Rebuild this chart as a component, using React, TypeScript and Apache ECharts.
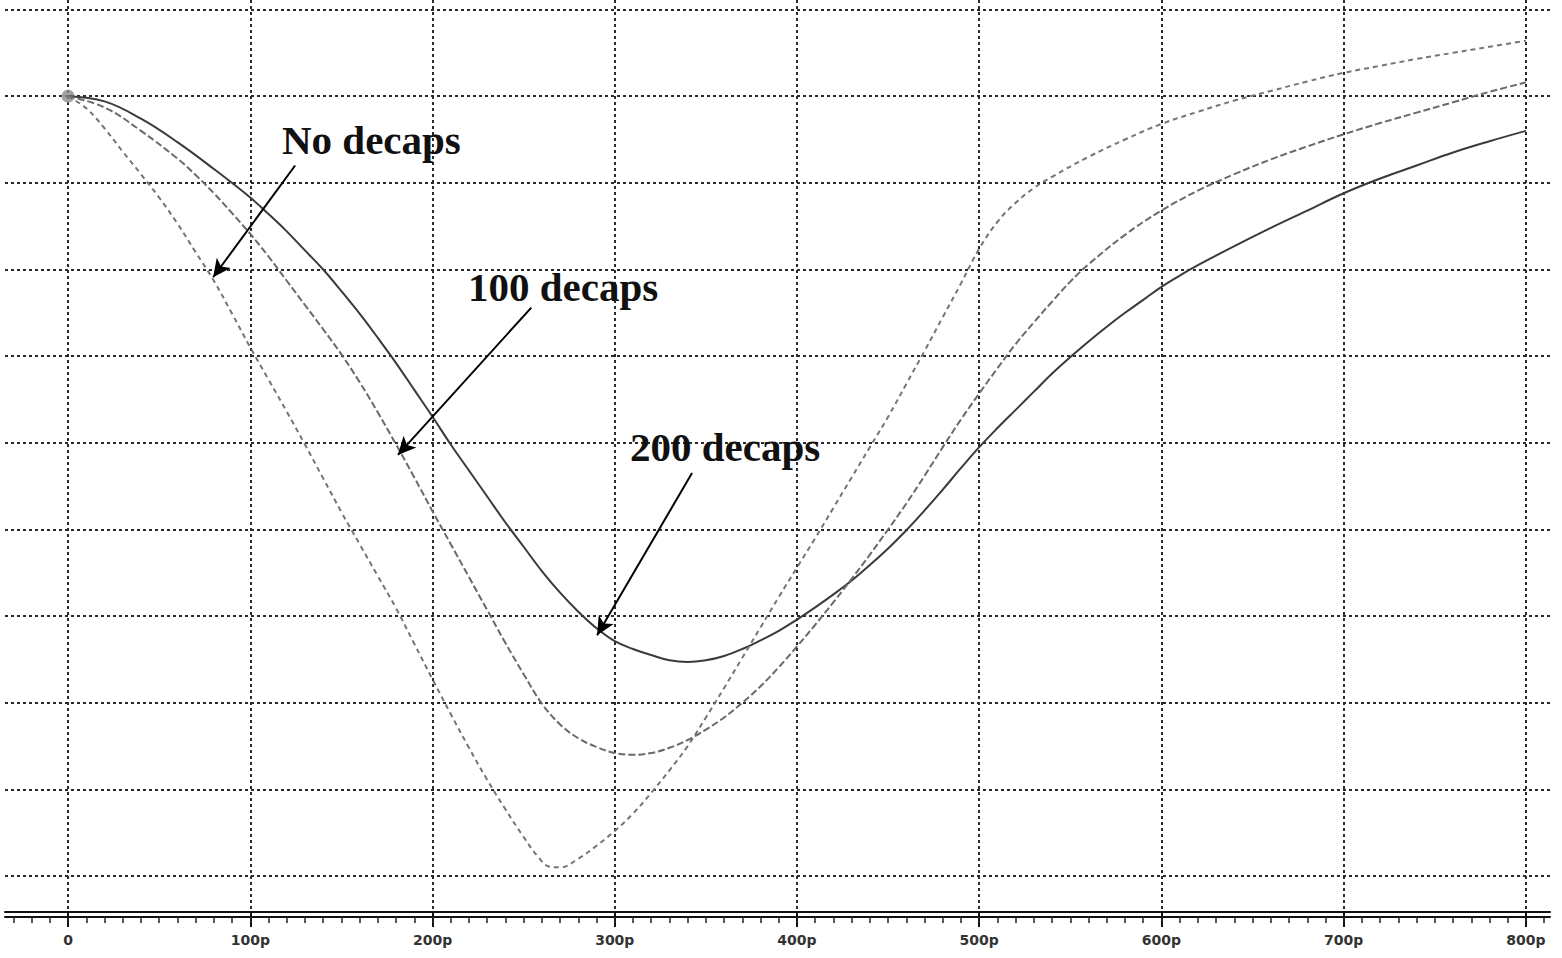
import React, { useEffect, useRef } from 'react';
import * as echarts from 'echarts';

// ---- axis ticks ----
const xTickValues = [0, 100, 200, 300, 400, 500, 600, 700, 800];
const xTickLabels = ['0', '100p', '200p', '300p', '400p', '500p', '600p', '700p', '800p'];
const xMinorTickValues = Array.from({ length: 85 }, (_, i) => -30 + i * 10);
const yGridValues = [0, 1, 2, 3, 4, 5, 6, 7, 8, 9, 10];
const yTopGridValue = 10;

const X_MIN = -34.6;
const X_MAX = 813.2;
const Y_MIN = -0.415;
const Y_MAX = 10.11;

// ---- series: solid curve (shallowest dip) ----
const timeSolid = [0, 20, 40, 60, 80, 100, 110, 120, 130, 140, 150, 160, 170, 180, 190, 200, 210, 220, 230, 240, 250, 260, 270, 280, 290, 300, 310, 320, 330, 340, 350, 360, 370, 380, 390, 400, 410, 420, 430, 440, 450, 460, 470, 480, 490, 500, 510, 520, 530, 540, 550, 560, 570, 580, 590, 600, 610, 620, 640, 660, 680, 700, 720, 740, 760, 780, 800];
const voltSolid = [9.0, 8.94, 8.74, 8.47, 8.16, 7.83, 7.64, 7.44, 7.22, 7.0, 6.75, 6.49, 6.21, 5.92, 5.61, 5.3, 4.98, 4.68, 4.38, 4.08, 3.8, 3.52, 3.27, 3.05, 2.86, 2.71, 2.62, 2.55, 2.49, 2.47, 2.49, 2.54, 2.62, 2.72, 2.83, 2.96, 3.1, 3.25, 3.41, 3.59, 3.78, 3.99, 4.22, 4.46, 4.71, 4.95, 5.17, 5.38, 5.59, 5.8, 5.99, 6.17, 6.34, 6.5, 6.65, 6.8, 6.93, 7.05, 7.27, 7.48, 7.68, 7.88, 8.05, 8.2, 8.35, 8.48, 8.6];

// ---- series: middle dashed curve ----
const timeMid = [0, 20, 40, 60, 70, 80, 90, 100, 110, 120, 130, 140, 150, 160, 170, 180, 190, 200, 210, 220, 230, 240, 250, 260, 270, 280, 290, 300, 310, 320, 330, 340, 350, 360, 370, 380, 390, 400, 410, 420, 430, 440, 450, 460, 470, 480, 490, 500, 510, 520, 530, 540, 550, 560, 580, 600, 620, 640, 660, 680, 700, 720, 740, 760, 780, 800];
const voltMid = [9.0, 8.87, 8.6, 8.28, 8.09, 7.88, 7.65, 7.41, 7.15, 6.87, 6.59, 6.31, 6.02, 5.7, 5.35, 4.98, 4.6, 4.21, 3.83, 3.45, 3.07, 2.69, 2.33, 1.99, 1.75, 1.59, 1.49, 1.42, 1.4, 1.42, 1.48, 1.57, 1.69, 1.83, 2.0, 2.19, 2.41, 2.65, 2.9, 3.16, 3.43, 3.71, 4.0, 4.3, 4.62, 4.95, 5.27, 5.57, 5.86, 6.14, 6.39, 6.63, 6.86, 7.06, 7.4, 7.68, 7.91, 8.1, 8.27, 8.42, 8.56, 8.69, 8.81, 8.93, 9.05, 9.16];

// ---- series: deepest dashed curve ----
const timeDeep = [0, 10, 20, 30, 40, 50, 60, 70, 80, 90, 100, 110, 120, 130, 140, 150, 160, 170, 180, 190, 200, 210, 220, 230, 240, 250, 258, 264, 270, 280, 290, 300, 310, 320, 330, 340, 350, 360, 370, 380, 390, 400, 410, 420, 430, 440, 450, 460, 470, 480, 490, 500, 510, 520, 530, 540, 560, 580, 600, 620, 640, 660, 680, 700, 720, 740, 760, 780, 800];
const voltDeep = [9.0, 8.86, 8.63, 8.36, 8.1, 7.83, 7.53, 7.2, 6.87, 6.49, 6.1, 5.73, 5.36, 4.98, 4.59, 4.2, 3.83, 3.46, 3.09, 2.68, 2.27, 1.87, 1.48, 1.11, 0.77, 0.45, 0.22, 0.11, 0.1, 0.2, 0.35, 0.52, 0.72, 0.96, 1.22, 1.5, 1.83, 2.17, 2.52, 2.87, 3.22, 3.56, 3.9, 4.25, 4.6, 4.95, 5.3, 5.68, 6.06, 6.45, 6.84, 7.24, 7.55, 7.77, 7.94, 8.07, 8.3, 8.5, 8.68, 8.82, 8.95, 9.06, 9.17, 9.27, 9.35, 9.43, 9.5, 9.57, 9.64];

// ---- start marker ----
const startPoint = [0, 9.0];

// ---- annotations (data coordinates) ----
const annotationTexts = ['No decaps', '100 decaps', '200 decaps'];
const annotationAnchors = [[117.4, 8.5], [219.5, 6.8], [308.4, 4.95]];
const arrowStarts = [[124.6, 8.2], [254.2, 6.56], [342.4, 4.65]];
const arrowTips = [[79.6, 6.91], [181, 4.86], [290.3, 2.78]];

const zip = (xs: number[], ys: number[]) => xs.map((x, i) => [x, ys[i]]);

export default function App() {
  const ref = useRef<HTMLDivElement>(null);
  useEffect(() => {
    const chart = echarts.init(ref.current!, null, { renderer: 'svg' });
    const gridLineStyle = { color: '#2a2a2a', width: 2, type: [3, 3] };
    chart.setOption({
      animation: false,
      backgroundColor: '#ffffff',
      grid: { left: 5, right: 12, top: 0, bottom: 46, containLabel: false },
      xAxis: [
        {
          type: 'value',
          min: X_MIN,
          max: X_MAX,
          position: 'bottom',
          axisLine: { show: true, onZero: false, lineStyle: { color: '#111', width: 2 } },
          axisTick: { show: true, customValues: xTickValues, length: 15, lineStyle: { color: '#111', width: 2 } },
          axisLabel: {
            show: true,
            customValues: xTickValues,
            margin: 21,
            formatter: (v: number) => xTickLabels[xTickValues.indexOf(v)] ?? '',
            fontFamily: 'DejaVu Sans',
            fontWeight: 'bold',
            fontSize: 14,
            color: '#333',
          },
          splitLine: { show: true, lineStyle: gridLineStyle },
        },
        {
          type: 'value',
          min: X_MIN,
          max: X_MAX,
          position: 'bottom',
          offset: 5,
          axisLine: { show: true, onZero: false, lineStyle: { color: '#111', width: 2 } },
          axisTick: { show: true, customValues: xMinorTickValues, length: 6, lineStyle: { color: '#222', width: 1.5 } },
          axisLabel: { show: false },
          splitLine: { show: false },
        },
      ],
      yAxis: {
        type: 'value',
        min: Y_MIN,
        max: Y_MAX,
        axisLine: { show: false },
        axisTick: { show: false, customValues: yGridValues },
        axisLabel: { show: false },
        splitLine: { show: true, lineStyle: gridLineStyle },
      },
      series: [
        {
          name: 'solid',
          type: 'line',
          xAxisIndex: 0,
          data: zip(timeSolid, voltSolid),
          smooth: 0.4,
          showSymbol: false,
          lineStyle: { color: '#3a3a3a', width: 2, type: 'solid' },
          markLine: {
            silent: true,
            symbol: ['none', 'arrow'],
            symbolSize: [13, 18],
            label: { show: false },
            lineStyle: { color: '#000', width: 2, type: 'solid' },
            data: arrowStarts.map((s, i) => [{ coord: s }, { coord: arrowTips[i] }]),
          },
          markPoint: {
            silent: true,
            symbol: 'circle',
            symbolSize: 0,
            data: annotationTexts.map((t, i) => ({ name: t, coord: annotationAnchors[i] })),
            label: {
              show: true,
              formatter: (p: any) => p.name,
              position: [0, 0],
              align: 'left',
              verticalAlign: 'middle',
              fontFamily: 'Liberation Serif',
              fontWeight: 'bold',
              fontSize: 41,
              color: '#111',
            },
          },
        },
        {
          name: 'mid',
          type: 'line',
          xAxisIndex: 0,
          data: zip(timeMid, voltMid),
          smooth: 0.4,
          showSymbol: false,
          lineStyle: { color: '#6a6a6a', width: 2, type: [7, 3] },
        },
        {
          name: 'deep',
          type: 'line',
          xAxisIndex: 0,
          data: zip(timeDeep, voltDeep),
          smooth: 0.4,
          showSymbol: false,
          lineStyle: { color: '#757575', width: 2, type: [5, 4] },
        },
        {
          name: 'start',
          type: 'scatter',
          xAxisIndex: 0,
          data: [startPoint],
          symbol: 'circle',
          symbolSize: 13,
          itemStyle: { color: '#8a8a8a' },
          markLine: {
            silent: true,
            symbol: ['none', 'none'],
            label: { show: false },
            lineStyle: gridLineStyle,
            data: [[{ coord: [X_MIN, yTopGridValue] }, { coord: [X_MAX, yTopGridValue] }]],
          },
        },
      ],
    });
    return () => chart.dispose();
  }, []);
  return <div ref={ref} style={{ position: 'fixed', left: 0, top: 0, width: 1562, height: 958 }} />;
}
